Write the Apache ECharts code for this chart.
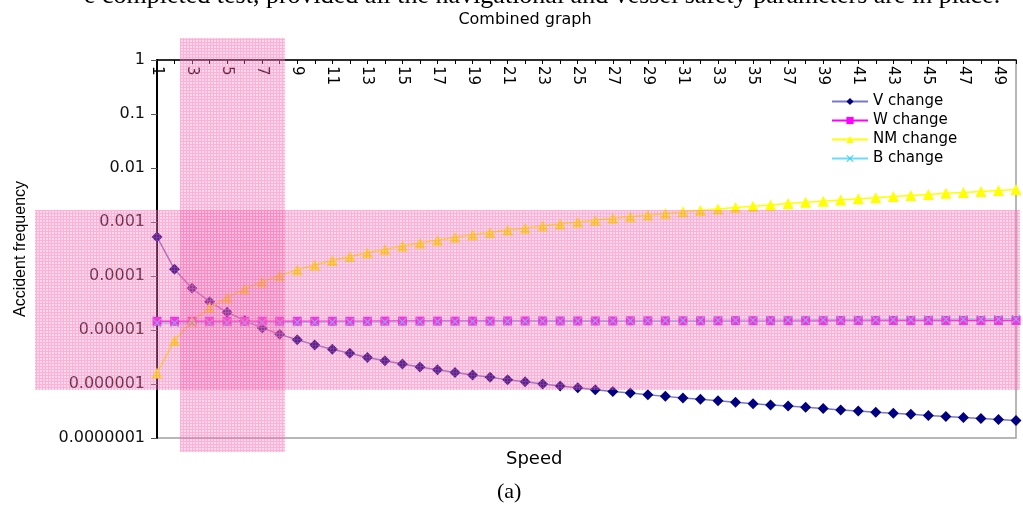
<!DOCTYPE html>
<html>
<head>
<meta charset="utf-8">
<script src="https://cdn.jsdelivr.net/npm/echarts@6/dist/echarts.min.js"></script>
<style>
  html, body { margin: 0; padding: 0; background: #fff; }
  #chart { width: 1023px; height: 512px; }
</style>
</head>
<body>
<div id="chart"></div>
<script>
const speeds = ['1', '2', '3', '4', '5', '6', '7', '8', '9', '10',
  '11', '12', '13', '14', '15', '16', '17', '18', '19', '20',
  '21', '22', '23', '24', '25', '26', '27', '28', '29', '30',
  '31', '32', '33', '34', '35', '36', '37', '38', '39', '40',
  '41', '42', '43', '44', '45', '46', '47', '48', '49', '50']

const vChange = [5.3e-4, 1.33e-4, 5.9e-5, 3.35e-5, 2.13e-5, 1.5e-5, 1.09e-5, 8.3e-6, 6.6e-6, 5.3e-6,
  4.4e-6, 3.7e-6, 3.1e-6, 2.7e-6, 2.35e-6, 2.07e-6, 1.84e-6, 1.64e-6, 1.47e-6, 1.33e-6,
  1.2e-6, 1.1e-6, 1.0e-6, 9.2e-7, 8.5e-7, 7.8e-7, 7.3e-7, 6.8e-7, 6.3e-7, 5.9e-7,
  5.5e-7, 5.2e-7, 4.9e-7, 4.6e-7, 4.3e-7, 4.1e-7, 3.9e-7, 3.7e-7, 3.5e-7, 3.3e-7,
  3.15e-7, 3.0e-7, 2.87e-7, 2.74e-7, 2.62e-7, 2.5e-7, 2.4e-7, 2.3e-7, 2.2e-7, 2.12e-7]

const wChange = [1.45e-5, 1.45e-5, 1.45e-5, 1.45e-5, 1.45e-5, 1.45e-5, 1.45e-5, 1.45e-5, 1.45e-5, 1.45e-5,
  1.45e-5, 1.45e-5, 1.45e-5, 1.46e-5, 1.46e-5, 1.46e-5, 1.46e-5, 1.46e-5, 1.46e-5, 1.46e-5,
  1.47e-5, 1.47e-5, 1.47e-5, 1.47e-5, 1.47e-5, 1.47e-5, 1.47e-5, 1.48e-5, 1.48e-5, 1.48e-5,
  1.48e-5, 1.48e-5, 1.48e-5, 1.49e-5, 1.49e-5, 1.49e-5, 1.49e-5, 1.49e-5, 1.49e-5, 1.5e-5,
  1.5e-5, 1.5e-5, 1.5e-5, 1.5e-5, 1.5e-5, 1.5e-5, 1.5e-5, 1.5e-5, 1.5e-5, 1.5e-5]

const nmChange = [1.6e-6, 6.4e-6, 1.45e-5, 2.6e-5, 4.0e-5, 5.8e-5, 7.8e-5, 1.02e-4, 1.3e-4, 1.6e-4,
  1.94e-4, 2.3e-4, 2.7e-4, 3.1e-4, 3.6e-4, 4.1e-4, 4.6e-4, 5.2e-4, 5.8e-4, 6.4e-4,
  7.1e-4, 7.7e-4, 8.5e-4, 9.2e-4, 1.0e-3, 1.08e-3, 1.17e-3, 1.25e-3, 1.35e-3, 1.44e-3,
  1.54e-3, 1.64e-3, 1.74e-3, 1.85e-3, 1.96e-3, 2.07e-3, 2.19e-3, 2.31e-3, 2.43e-3, 2.56e-3,
  2.69e-3, 2.82e-3, 2.96e-3, 3.1e-3, 3.24e-3, 3.39e-3, 3.53e-3, 3.69e-3, 3.84e-3, 4.0e-3]

const bChange = [1.35e-5, 1.35e-5, 1.36e-5, 1.36e-5, 1.37e-5, 1.37e-5, 1.38e-5, 1.38e-5, 1.39e-5, 1.39e-5,
  1.4e-5, 1.4e-5, 1.41e-5, 1.41e-5, 1.42e-5, 1.42e-5, 1.43e-5, 1.43e-5, 1.44e-5, 1.44e-5,
  1.45e-5, 1.45e-5, 1.46e-5, 1.46e-5, 1.47e-5, 1.47e-5, 1.48e-5, 1.48e-5, 1.49e-5, 1.49e-5,
  1.5e-5, 1.5e-5, 1.51e-5, 1.51e-5, 1.52e-5, 1.52e-5, 1.53e-5, 1.53e-5, 1.54e-5, 1.54e-5,
  1.55e-5, 1.55e-5, 1.56e-5, 1.56e-5, 1.57e-5, 1.57e-5, 1.58e-5, 1.58e-5, 1.59e-5, 1.6e-5]

const seriesNames = ['V change', 'W change', 'NM change', 'B change']

// pink grid-paper overlay used for the two highlight bands
function pinkPattern () {
  const c = document.createElement('canvas')
  c.width = 3
  c.height = 3
  const ctx = c.getContext('2d')
  ctx.fillStyle = 'rgba(255,130,190,0.3)'
  ctx.fillRect(0, 0, 3, 3)
  ctx.fillStyle = 'rgba(255,80,165,0.3)'
  ctx.fillRect(0, 0, 3, 1)
  ctx.fillRect(0, 1, 1, 2)
  return { image: c, repeat: 'repeat' }
}

const crossPath = 'path://M0,1L1,0L5,4L9,0L10,1L6,5L10,9L9,10L5,6L1,10L0,9L4,5Z'
const font = 'DejaVu Sans'

const chart = echarts.init(document.getElementById('chart'))
chart.setOption({
  animation: false,
  backgroundColor: '#fff',
  title: {
    text: 'Combined graph',
    left: 520,
    textAlign: 'center',
    top: 7,
    textStyle: { fontFamily: font, fontSize: 16, fontWeight: 'normal', color: '#000' }
  },
  legend: {
    orient: 'vertical',
    left: 826,
    top: 89,
    itemWidth: 36,
    itemHeight: 9,
    itemGap: 4,
    data: seriesNames,
    textStyle: { fontFamily: font, fontSize: 15, color: '#000' }
  },
  grid: {
    left: 157,
    right: 7,
    top: 60,
    bottom: 74,
    show: true,
    borderColor: '#a0a0a0',
    borderWidth: 1.5,
    backgroundColor: 'transparent'
  },
  xAxis: {
    type: 'category',
    data: speeds,
    position: 'top',
    boundaryGap: false,
    axisLine: { lineStyle: { color: '#000', width: 1.5 } },
    axisTick: { inside: true, length: 4, interval: 0, lineStyle: { color: '#000' } },
    axisLabel: {
      inside: true,
      rotate: 90,
      interval: 1,
      margin: 6,
      fontFamily: font,
      fontSize: 15,
      color: '#000'
    },
    splitLine: { show: false }
  },
  yAxis: {
    type: 'log',
    logBase: 10,
    min: 1e-7,
    max: 1,
    name: 'Accident frequency',
    nameLocation: 'middle',
    nameGap: 128,
    nameTextStyle: { fontFamily: 'Liberation Sans', fontSize: 16, color: '#000' },
    axisLine: { show: true, lineStyle: { color: '#000', width: 2 } },
    axisTick: { show: true, length: 6, lineStyle: { color: '#555' } },
    splitLine: { show: false },
    axisLabel: {
      margin: 12,
      fontFamily: font,
      fontSize: 16,
      color: '#111',
      formatter: function (v) {
        const p = Math.round(-Math.log10(v))
        return p <= 0 ? '1' : v.toFixed(p)
      }
    }
  },
  graphic: [
    {
      type: 'text',
      left: 84,
      top: -17,
      style: {
        text: 'e completed test, provided all the navigational and vessel safety parameters are in place.',
        fontFamily: 'Liberation Serif',
        fontSize: 26,
        fill: '#000'
      }
    },
    {
      type: 'text',
      left: 506,
      top: 450,
      style: { text: 'Speed', fontFamily: font, fontSize: 18, fill: '#000' }
    },
    {
      type: 'text',
      left: 497,
      top: 481,
      style: { text: '(a)', fontFamily: 'Liberation Serif', fontSize: 22, fill: '#000' }
    },
    {
      type: 'rect',
      z: 100,
      silent: true,
      shape: { x: 180, y: 38, width: 105, height: 414 },
      style: { fill: pinkPattern() }
    },
    {
      type: 'rect',
      z: 100,
      silent: true,
      shape: { x: 35, y: 210, width: 985, height: 180 },
      style: { fill: pinkPattern() }
    }
  ],
  series: [
    {
      name: 'V change',
      type: 'line',
      data: vChange,
      symbol: 'diamond',
      symbolSize: 11,
      itemStyle: { color: '#000080' },
      lineStyle: { color: '#7878c8', width: 1.5 }
    },
    {
      name: 'W change',
      type: 'line',
      data: wChange,
      symbol: 'rect',
      symbolSize: 9,
      itemStyle: { color: '#ff00ff' },
      lineStyle: { color: '#ff00ff', width: 1.5 }
    },
    {
      name: 'NM change',
      type: 'line',
      data: nmChange,
      symbol: 'triangle',
      symbolSize: 11,
      itemStyle: { color: '#ffff00' },
      lineStyle: { color: '#ffff00', width: 1.5 }
    },
    {
      name: 'B change',
      type: 'line',
      data: bChange,
      symbol: crossPath,
      symbolSize: 9,
      itemStyle: { color: '#33ccff' },
      lineStyle: { color: '#66ddff', width: 1.5 }
    }
  ]
})
</script>
</body>
</html>
